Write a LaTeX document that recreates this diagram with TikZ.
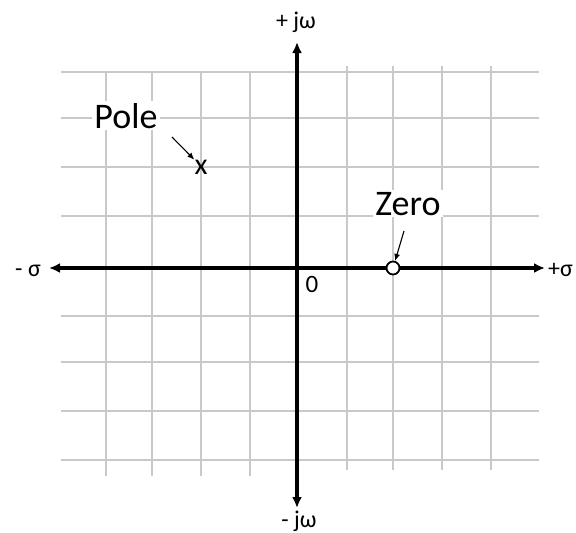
\documentclass[tikz,border=0pt]{standalone}
\usepackage{fontspec}
\setmainfont{Carlito}
\usetikzlibrary{arrows.meta}
\tikzset{
  gridline/.style={draw=black!21, line width=1.4pt},
  axis/.style={line width=3.4pt, -{Latex[length=11pt,width=10pt]}},
  pointer/.style={line width=1.1pt, -{Latex[length=7pt,width=6pt]}},
  biglabel/.style={font=\fontsize{36}{40}\selectfont, fill=white, inner sep=2pt, anchor=base},
  axislabel/.style={font=\fontsize{24}{28}\selectfont, inner sep=0pt, anchor=base},
}
\begin{document}
\begin{tikzpicture}[x=1pt,y=-1pt]
\useasboundingbox (0,0) rectangle (576,533);
% grid
\foreach \y in {72,118,167,216,316,362,411,460}
  \draw[gridline] (61,\y) -- (539,\y);
\foreach \x in {106,152,201,250}
  \draw[gridline] (\x,72) -- (\x,476);
\foreach \x in {347,393,442,491}
  \draw[gridline] (\x,66) -- (\x,470);
% axes
\coordinate (o) at (297,268);
\coordinate (top) at (297,42);
\coordinate (bot) at (297,508);
\coordinate (left) at (49,268);
\coordinate (right) at (545,268);
\draw[axis] (o) -- (top);
\draw[axis] (o) -- (bot);
\draw[axis] (o) -- (left);
\draw[axis] (o) -- (right);
% axis labels
\node[axislabel] (lpj) at (296,28) {+ jω};
\node[axislabel] (lmj) at (299,527) {- jω};
\node[axislabel] (lms) at (28,276) {- σ};
\node[axislabel, anchor=base west] (lps) at (548,276) {+σ};
\node[font=\fontsize{25}{28}\selectfont, inner sep=0pt, anchor=base] (zero0) at (312,292) {0};
% pole
\node[biglabel] (pole) at (126,128) {Pole};
\node[font=\fontsize{30}{32}\selectfont, inner sep=0pt] (px) at (201,167) {x};
\coordinate (pa) at (172,137);
\draw[pointer] (pa) -- (px.north west);
% zero
\node[biglabel] (zerol) at (408,215) {Zero};
\node[circle, draw, fill=white, line width=1.8pt, minimum size=13pt, inner sep=0pt] (zc) at (393,268) {};
\coordinate (za) at (404,231);
\draw[pointer] (za) -- (zc);
\end{tikzpicture}
\end{document}
